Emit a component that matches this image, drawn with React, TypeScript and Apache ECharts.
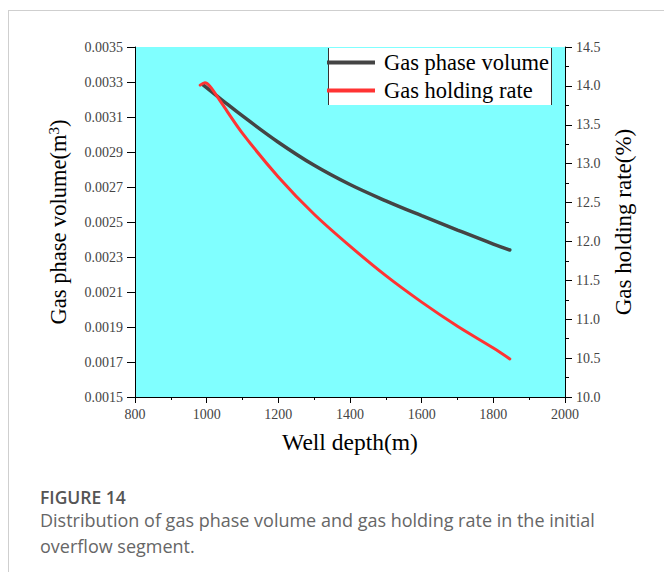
import React, { useEffect, useRef } from "react";
import * as echarts from "echarts";

const depthVolume = [990, 1043, 1100, 1200, 1300, 1400, 1500, 1600, 1700, 1800, 1846];
const gasVolume = [0.003283, 0.003197, 0.003106, 0.002956, 0.002824, 0.002714, 0.002621, 0.002536, 0.002454, 0.002374, 0.00234];

const depthRate = [982, 995, 1010, 1040, 1100, 1200, 1300, 1400, 1500, 1600, 1700, 1800, 1846];
const holdRate = [14.01, 14.04, 13.99, 13.79, 13.39, 12.83, 12.35, 11.94, 11.56, 11.22, 10.91, 10.63, 10.49];

const VOL_MIN = 0.0015;
const VOL_MAX = 0.0035;
const VOL_STEP = 0.0002;
const VOL_UNIT = 1e4; // left axis drawn in units of 1e-4 above VOL_MIN

const seriesNames = ["Gas phase volume", "Gas holding rate"];
const captionTitle = "FIGURE 14";
const captionLines = [
  "Distribution of gas phase volume and gas holding rate in the initial",
  "overflow segment.",
];

const SERIF = "'Liberation Serif', 'Times New Roman', serif";
const SANS = "'Open Sans', 'Noto Sans', sans-serif";

export default function App() {
  const ref = useRef<HTMLDivElement>(null);
  useEffect(() => {
    if (!ref.current) return;
    const chart = echarts.init(ref.current, null, { renderer: "svg" });
    const volData = depthVolume.map((d, i) => [d, (gasVolume[i] - VOL_MIN) * VOL_UNIT]);
    const rateData = depthRate.map((d, i) => [d, holdRate[i]]);
    const labelStyle = { fontFamily: SERIF, fontSize: 14, color: "#444" };
    chart.setOption({
      animation: false,
      grid: {
        left: 135,
        right: 99,
        top: 47,
        bottom: 175,
        show: true,
        backgroundColor: "#80ffff",
        borderWidth: 0,
      },
      legend: {
        show: true,
        orient: "vertical",
        left: 327,
        top: 51,
        padding: 0,
        itemGap: 5,
        itemWidth: 48,
        itemHeight: 4,
        icon: "rect",
        data: seriesNames,
        textStyle: { fontFamily: SERIF, fontSize: 22.5, color: "#000", padding: [0, 0, 0, 4] },
        z: 5,
      },
      xAxis: {
        type: "value",
        min: 800,
        max: 2000,
        interval: 200,
        name: "Well depth(m)",
        nameLocation: "middle",
        nameGap: 33,
        nameTextStyle: { fontFamily: SERIF, fontSize: 23.5, color: "#000" },
        axisLine: { onZero: false, lineStyle: { color: "#000", width: 1 } },
        axisTick: { show: true, length: 6, lineStyle: { color: "#000" } },
        minorTick: { show: true, splitNumber: 2, length: 3, lineStyle: { color: "#000" } },
        axisLabel: { ...labelStyle, margin: 10, formatter: (v: number) => String(v) },
        splitLine: { show: false },
      },
      yAxis: [
        {
          type: "value",
          position: "left",
          min: 0,
          max: (VOL_MAX - VOL_MIN) * VOL_UNIT,
          interval: VOL_STEP * VOL_UNIT,
          name: "Gas phase volume(m{sup|3})",
          nameLocation: "middle",
          nameRotate: 90,
          nameGap: 64,
          nameTextStyle: {
            fontFamily: SERIF,
            fontSize: 22.5,
            color: "#000",
            rich: {
              sup: { fontFamily: SERIF, fontSize: 15, color: "#000", verticalAlign: "top", padding: [0, 0, 10, 0] },
            },
          },
          axisLine: { show: true, lineStyle: { color: "#000", width: 1 } },
          axisTick: { show: true, length: 8, lineStyle: { color: "#000" } },
          axisLabel: {
            ...labelStyle,
            margin: 12,
            formatter: (v: number) => (v / VOL_UNIT + VOL_MIN).toFixed(4),
          },
          splitLine: { show: false },
        },
        {
          type: "value",
          position: "right",
          min: 10,
          max: 14.5,
          interval: 0.5,
          name: "Gas holding rate(%)",
          nameLocation: "middle",
          nameRotate: 90,
          nameGap: 47,
          nameTextStyle: { fontFamily: SERIF, fontSize: 23, color: "#000" },
          axisLine: { show: true, lineStyle: { color: "#000", width: 1 } },
          axisTick: { show: true, length: 7, lineStyle: { color: "#000" } },
          minorTick: { show: true, splitNumber: 2, length: 4, lineStyle: { color: "#000" } },
          axisLabel: { ...labelStyle, margin: 11, formatter: (v: number) => v.toFixed(1) },
          splitLine: { show: false },
        },
      ],
      series: [
        {
          name: seriesNames[0],
          type: "line",
          yAxisIndex: 0,
          data: volData,
          smooth: 0.4,
          showSymbol: false,
          symbol: "none",
          lineStyle: { color: "#444444", width: 3.5, cap: "round" },
          itemStyle: { color: "#444444" },
          z: 2,
        },
        {
          name: seriesNames[1],
          type: "line",
          yAxisIndex: 1,
          data: rateData,
          smooth: 0.3,
          showSymbol: false,
          symbol: "none",
          lineStyle: { color: "#ff3333", width: 3, cap: "round" },
          itemStyle: { color: "#ff3333" },
          z: 3,
        },
      ],
      graphic: [
        { type: "line", shape: { x1: 8.5, y1: 10, x2: 8.5, y2: 572 }, style: { stroke: "#cfcfcf", lineWidth: 1 }, silent: true },
        { type: "line", shape: { x1: 8, y1: 10.5, x2: 664, y2: 10.5 }, style: { stroke: "#cfcfcf", lineWidth: 1 }, silent: true },
        { type: "rect", shape: { x: 328, y: 48, width: 224, height: 57 }, style: { fill: "#ffffff" }, z: 4, silent: true },
        { type: "line", shape: { x1: 328.5, y1: 48, x2: 328.5, y2: 105 }, style: { stroke: "#333", lineWidth: 1 }, z: 4, silent: true },
        { type: "line", shape: { x1: 551.5, y1: 48, x2: 551.5, y2: 105 }, style: { stroke: "#333", lineWidth: 1 }, z: 4, silent: true },
        {
          type: "text",
          left: 40,
          top: 487,
          style: { text: captionTitle, fontFamily: SANS, fontSize: 17.5, lineHeight: 20, fontWeight: 600, fill: "#555" },
        },
        {
          type: "text",
          left: 40,
          top: 510,
          style: { text: captionLines[0], fontFamily: SANS, fontSize: 18, lineHeight: 20, fill: "#666" },
        },
        {
          type: "text",
          left: 40,
          top: 536,
          style: { text: captionLines[1], fontFamily: SANS, fontSize: 18, lineHeight: 20, fill: "#666" },
        },
      ],
    });
    return () => chart.dispose();
  }, []);
  return (
    <div
      ref={ref}
      style={{ position: "fixed", left: 0, top: 0, width: 664, height: 572, background: "#fff" }}
    />
  );
}
